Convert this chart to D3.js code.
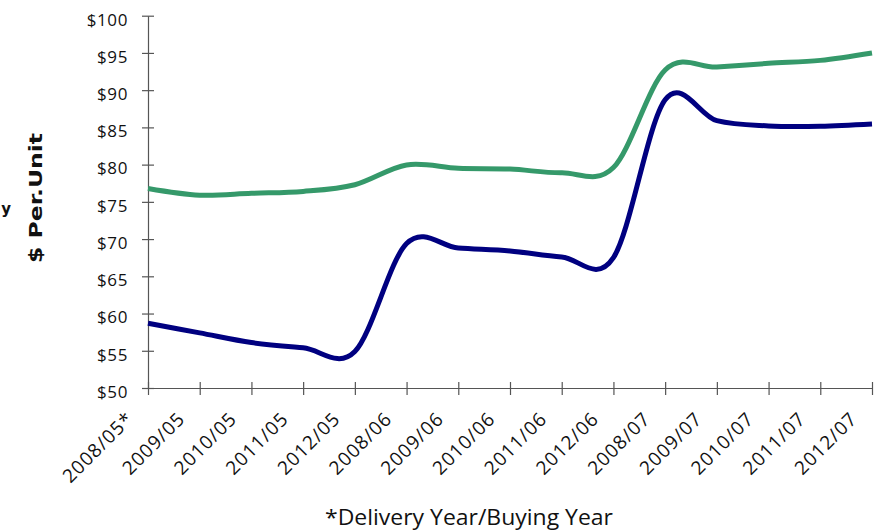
<!DOCTYPE html>
<html>
<head>
<meta charset="utf-8">
<script src="https://cdn.jsdelivr.net/npm/d3@7/dist/d3.min.js"></script>
<style>
  html, body { margin: 0; padding: 0; background: #fff; }
  svg { display: block; }
</style>
</head>
<body>
<svg id="chart" width="883" height="532"></svg>
<script>
// ---- data ----
const categories = ["2008/05*","2009/05","2010/05","2011/05","2012/05","2008/06","2009/06","2010/06","2011/06","2012/06","2008/07","2009/07","2010/07","2011/07","2012/07"];
const seriesBlue  = [58.7, 57.4, 56.1, 55.4, 54.9, 69.4, 68.8, 68.4, 67.6, 67.5, 88.7, 85.9, 85.2, 85.15, 85.45];
const seriesGreen = [76.8, 75.9, 76.15, 76.4, 77.3, 79.95, 79.5, 79.4, 78.9, 79.6, 92.7, 93.1, 93.6, 94.0, 95.0];
const yTicks = [50, 55, 60, 65, 70, 75, 80, 85, 90, 95, 100];
const yTitle = "$ Per.Unit";
const xTitle = "*Delivery Year/Buying Year";

// ---- layout ----
const svg = d3.select("#chart");
const x = d3.scalePoint().domain(categories).range([148, 872]);
const y = d3.scaleLinear().domain([50, 100]).range([388, 15.7]);
const axisColor = "#555";
const font = "'Open Sans', sans-serif";

// y axis
const gy = svg.append("g").attr("transform", "translate(148,0)")
  .call(d3.axisLeft(y).tickValues(yTicks).tickSizeOuter(0).tickFormat(d => "$" + d));
gy.select(".domain").attr("stroke", axisColor).attr("stroke-width", 1.2);
gy.selectAll(".tick line").attr("stroke", axisColor).attr("stroke-width", 1.2).attr("x1", 6).attr("x2", -6);
gy.selectAll(".tick text")
  .attr("x", -20).attr("dy", "0.55em")
  .attr("fill", "#111")
  .style("font-family", font).style("font-size", "17px").style("letter-spacing", "0.6px");

// x axis
const gx = svg.append("g").attr("transform", "translate(0,388)")
  .call(d3.axisBottom(x).tickSizeOuter(0));
gx.select(".domain").attr("stroke", axisColor).attr("stroke-width", 1.2);
gx.selectAll(".tick line").attr("stroke", axisColor).attr("stroke-width", 1.2).attr("y1", -6).attr("y2", 7);
gx.selectAll(".tick text").remove();
gx.selectAll(".tick").append("text")
  .attr("transform", "translate(-14,32) rotate(-45)")
  .attr("text-anchor", "end")
  .attr("fill", "#111")
  .style("font-family", font).style("font-size", "19px").style("letter-spacing", "1px")
  .text(d => d);

// lines
const line = d3.line()
  .x((d, i) => x(categories[i]))
  .y(d => y(d))
  .curve(d3.curveCardinal.tension(0));

svg.append("path").datum(seriesGreen)
  .attr("d", line).attr("fill", "none")
  .attr("stroke", "#35996a").attr("stroke-width", 5);
svg.append("path").datum(seriesBlue)
  .attr("d", line).attr("fill", "none")
  .attr("stroke", "#000080").attr("stroke-width", 5);

// titles
svg.append("text")
  .attr("transform", "translate(42,198) rotate(-90)")
  .attr("text-anchor", "middle")
  .attr("textLength", 130).attr("lengthAdjust", "spacingAndGlyphs")
  .style("font-family", "'DejaVu Sans', sans-serif").style("font-weight", "bold").style("font-size", "18px")
  .attr("fill", "#111")
  .text(yTitle);

svg.append("text")
  .attr("x", 11).attr("y", 214)
  .attr("text-anchor", "end")
  .style("font-family", "'DejaVu Sans', sans-serif").style("font-weight", "bold").style("font-size", "15px")
  .attr("fill", "#111")
  .text("y");

svg.append("text")
  .attr("x", 469).attr("y", 525)
  .attr("text-anchor", "middle")
  .attr("textLength", 288).attr("lengthAdjust", "spacingAndGlyphs")
  .style("font-family", font).style("font-size", "21px")
  .attr("fill", "#111")
  .text(xTitle);
</script>
</body>
</html>
